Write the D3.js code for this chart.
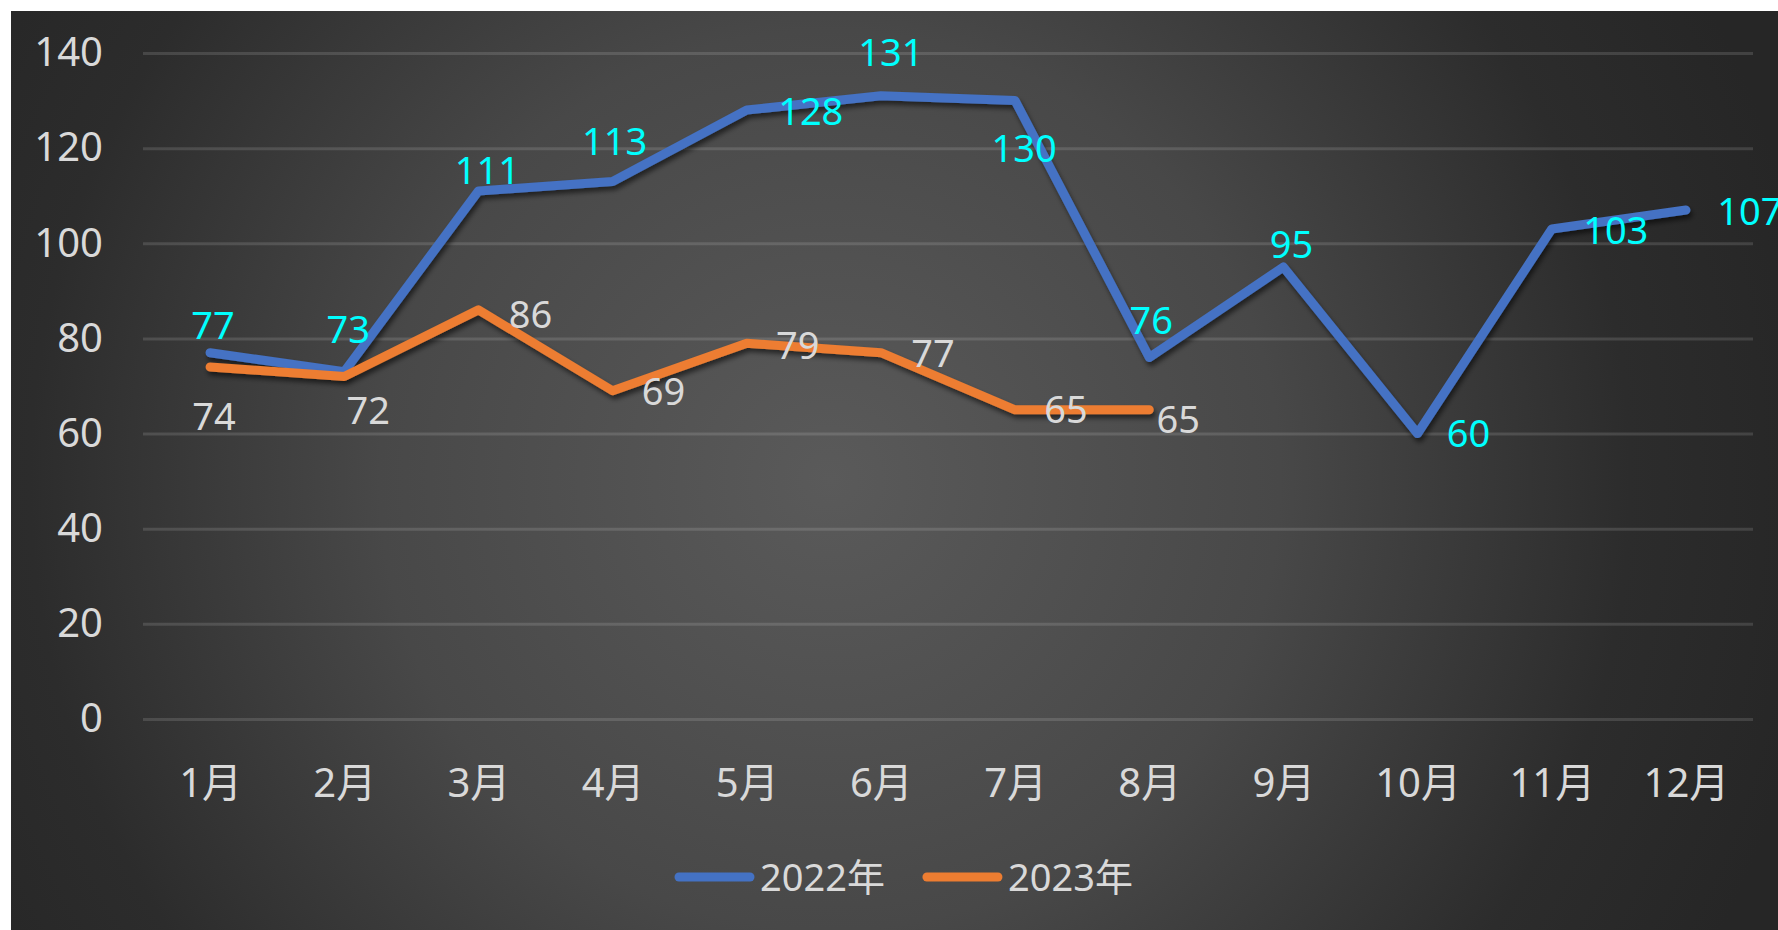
<!DOCTYPE html>
<html>
<head>
<meta charset="utf-8">
<script src="https://cdn.jsdelivr.net/npm/d3@7/dist/d3.min.js"></script>
<style>
  html, body { margin: 0; padding: 0; background: #ffffff; overflow: hidden; }
  svg { display: block; }
  text { font-family: "Noto Sans", "Open Sans", "Noto Sans CJK SC", sans-serif; }
</style>
</head>
<body>
<svg id="chart" width="1778" height="930"></svg>
<script>
// ---- data ----
const months = ['1月','2月','3月','4月','5月','6月','7月','8月','9月','10月','11月','12月'];
const values2022 = [77, 73, 111, 113, 128, 131, 130, 76, 95, 60, 103, 107];
const values2023 = [74, 72, 86, 69, 79, 77, 65, 65];
const yTickValues = [0, 20, 40, 60, 80, 100, 120, 140];
const seriesNames = ['2022年', '2023年'];

// ---- label placement (layout only, offsets of label centre from point, px) ----
const labelOffsets2022 = [[3,-27],[4,-42],[9,-20],[2,-40],[64,2],[10,-43],[9,48],[2,-37],[8,-22],[51,0],[64,2],[64,2]];
const labelOffsets2023 = [[4,50],[24,34],[52,5],[51,1],[51,3],[52,1],[51,0],[29,10]];

const W = 1778, H = 930;
const svg = d3.select('#chart');
const defs = svg.append('defs');

const grad = defs.append('radialGradient')
  .attr('id', 'bg').attr('gradientUnits', 'userSpaceOnUse')
  .attr('cx', 830).attr('cy', 480).attr('r', 1000);
[[0, '#5a5a5a'], [0.45, '#484848'], [0.8, '#2c2c2c'], [1, '#262626']].forEach(s =>
  grad.append('stop').attr('offset', s[0]).attr('stop-color', s[1]));

const shadow = defs.append('filter').attr('id', 'shadow')
  .attr('x', '-5%').attr('y', '-20%').attr('width', '110%').attr('height', '140%');
shadow.append('feDropShadow').attr('dx', 2).attr('dy', 4).attr('stdDeviation', 2.5)
  .attr('flood-color', '#000').attr('flood-opacity', 0.55);

svg.append('rect').attr('x', 11).attr('y', 11).attr('width', W - 11).attr('height', H - 11)
  .attr('fill', 'url(#bg)');

const plotLeft = 143, plotRight = 1753;
const x = d3.scalePoint().domain(months).range([plotLeft, plotRight]).padding(0.5);
const y = d3.scaleLinear().domain([0, 140]).range([719, 53]);

// y axis + gridlines
const yAxis = svg.append('g').attr('transform', `translate(${plotLeft},0)`)
  .call(d3.axisLeft(y).tickValues(yTickValues).tickSize(-(plotRight - plotLeft)).tickPadding(40));
yAxis.select('.domain').remove();
yAxis.selectAll('.tick line').attr('stroke', 'rgba(255,255,255,0.13)').attr('stroke-width', 3);
yAxis.selectAll('.tick text').attr('fill', '#d9d9d9').attr('font-size', 40)
  .attr('font-family', '"Noto Sans", "Noto Sans CJK SC", sans-serif');

// x axis
const xAxis = svg.append('g').attr('transform', `translate(0,${y(0)})`)
  .call(d3.axisBottom(x).tickSize(0).tickPadding(50));
xAxis.select('.domain').remove();
xAxis.selectAll('.tick text').attr('fill', '#d9d9d9').attr('font-size', 40)
  .attr('font-family', '"Noto Sans", "Noto Sans CJK SC", sans-serif');

// lines
const line = d3.line().x((d, i) => x(months[i])).y(d => y(d));
const series = [
  { name: seriesNames[0], values: values2022, color: '#4472c4', labelColor: '#00ffff', offsets: labelOffsets2022 },
  { name: seriesNames[1], values: values2023, color: '#ed7d31', labelColor: '#d9d9d9', offsets: labelOffsets2023 }
];

series.forEach(s => {
  svg.append('path').datum(s.values)
    .attr('d', line)
    .attr('fill', 'none')
    .attr('stroke', s.color)
    .attr('stroke-width', 9)
    .attr('stroke-linejoin', 'round')
    .attr('stroke-linecap', 'round')
    .attr('filter', 'url(#shadow)');
});

// data labels
series.forEach(s => {
  svg.append('g').selectAll('text').data(s.values).join('text')
    .attr('x', (d, i) => x(months[i]) + s.offsets[i][0])
    .attr('y', (d, i) => y(d) + s.offsets[i][1])
    .attr('dy', '0.35em')
    .attr('text-anchor', 'middle')
    .attr('font-size', 38)
    .attr('fill', s.labelColor)
    .text(d => d);
});

// legend
const legend = svg.append('g');
let lx = 675;
series.forEach(s => {
  legend.append('line').attr('x1', lx + 4).attr('x2', lx + 75).attr('y1', 877).attr('y2', 877)
    .attr('stroke', s.color).attr('stroke-width', 9).attr('stroke-linecap', 'round');
  const t = legend.append('text').attr('x', lx + 85).attr('y', 891)
    .attr('font-size', 38).attr('fill', '#d9d9d9').text(s.name);
  lx = lx + 85 + t.node().getComputedTextLength() + 38;
});
</script>
</body>
</html>
